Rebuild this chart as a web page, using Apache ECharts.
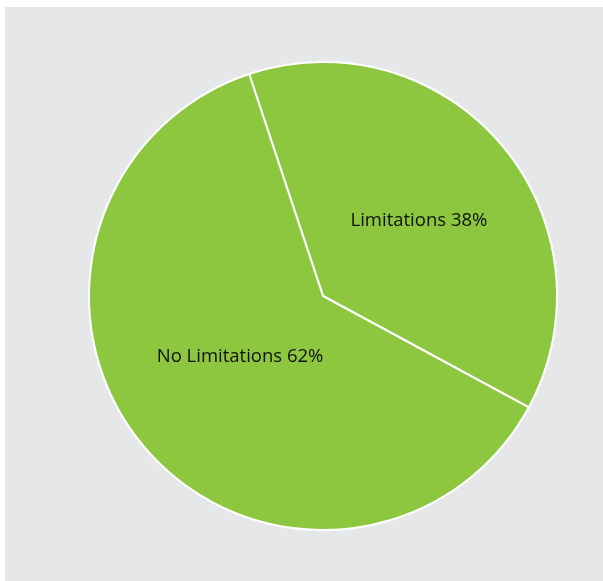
<!DOCTYPE html>
<html>
<head>
<meta charset="utf-8">
<script src="https://cdn.jsdelivr.net/npm/echarts@6/dist/echarts.min.js"></script>
<style>
  html, body { margin: 0; padding: 0; background: #ffffff; }
  #chart { position: absolute; left: 5px; top: 7px; width: 598px; height: 574px; background: #e6e7e9; }
</style>
</head>
<body>
<div id="chart"></div>
<script>
// Share of respondents reporting limitations
const categories = ['Limitations', 'No Limitations'];
const shares = [38, 62];

const labelOffsets = [[4, 2], [9, -16]];

const chart = echarts.init(document.getElementById('chart'), null, { renderer: 'canvas' });
chart.setOption({
  backgroundColor: '#e6e7e9',
  animation: false,
  series: [{
    type: 'pie',
    center: [318, 289],
    radius: 234,
    startAngle: 108.4,
    clockwise: true,
    itemStyle: { color: '#8dc63f', borderColor: '#ffffff', borderWidth: 2 },
    label: {
      show: true,
      position: 'inside',
      color: '#111111',
      fontFamily: 'Open Sans',
      fontSize: 18.5,
      formatter: p => p.name + ' ' + p.value + '%'
    },
    labelLine: { show: false },
    emphasis: { disabled: true },
    data: categories.map((name, i) => ({
      name,
      value: shares[i],
      label: { offset: labelOffsets[i] }
    }))
  }]
});
</script>
</body>
</html>
